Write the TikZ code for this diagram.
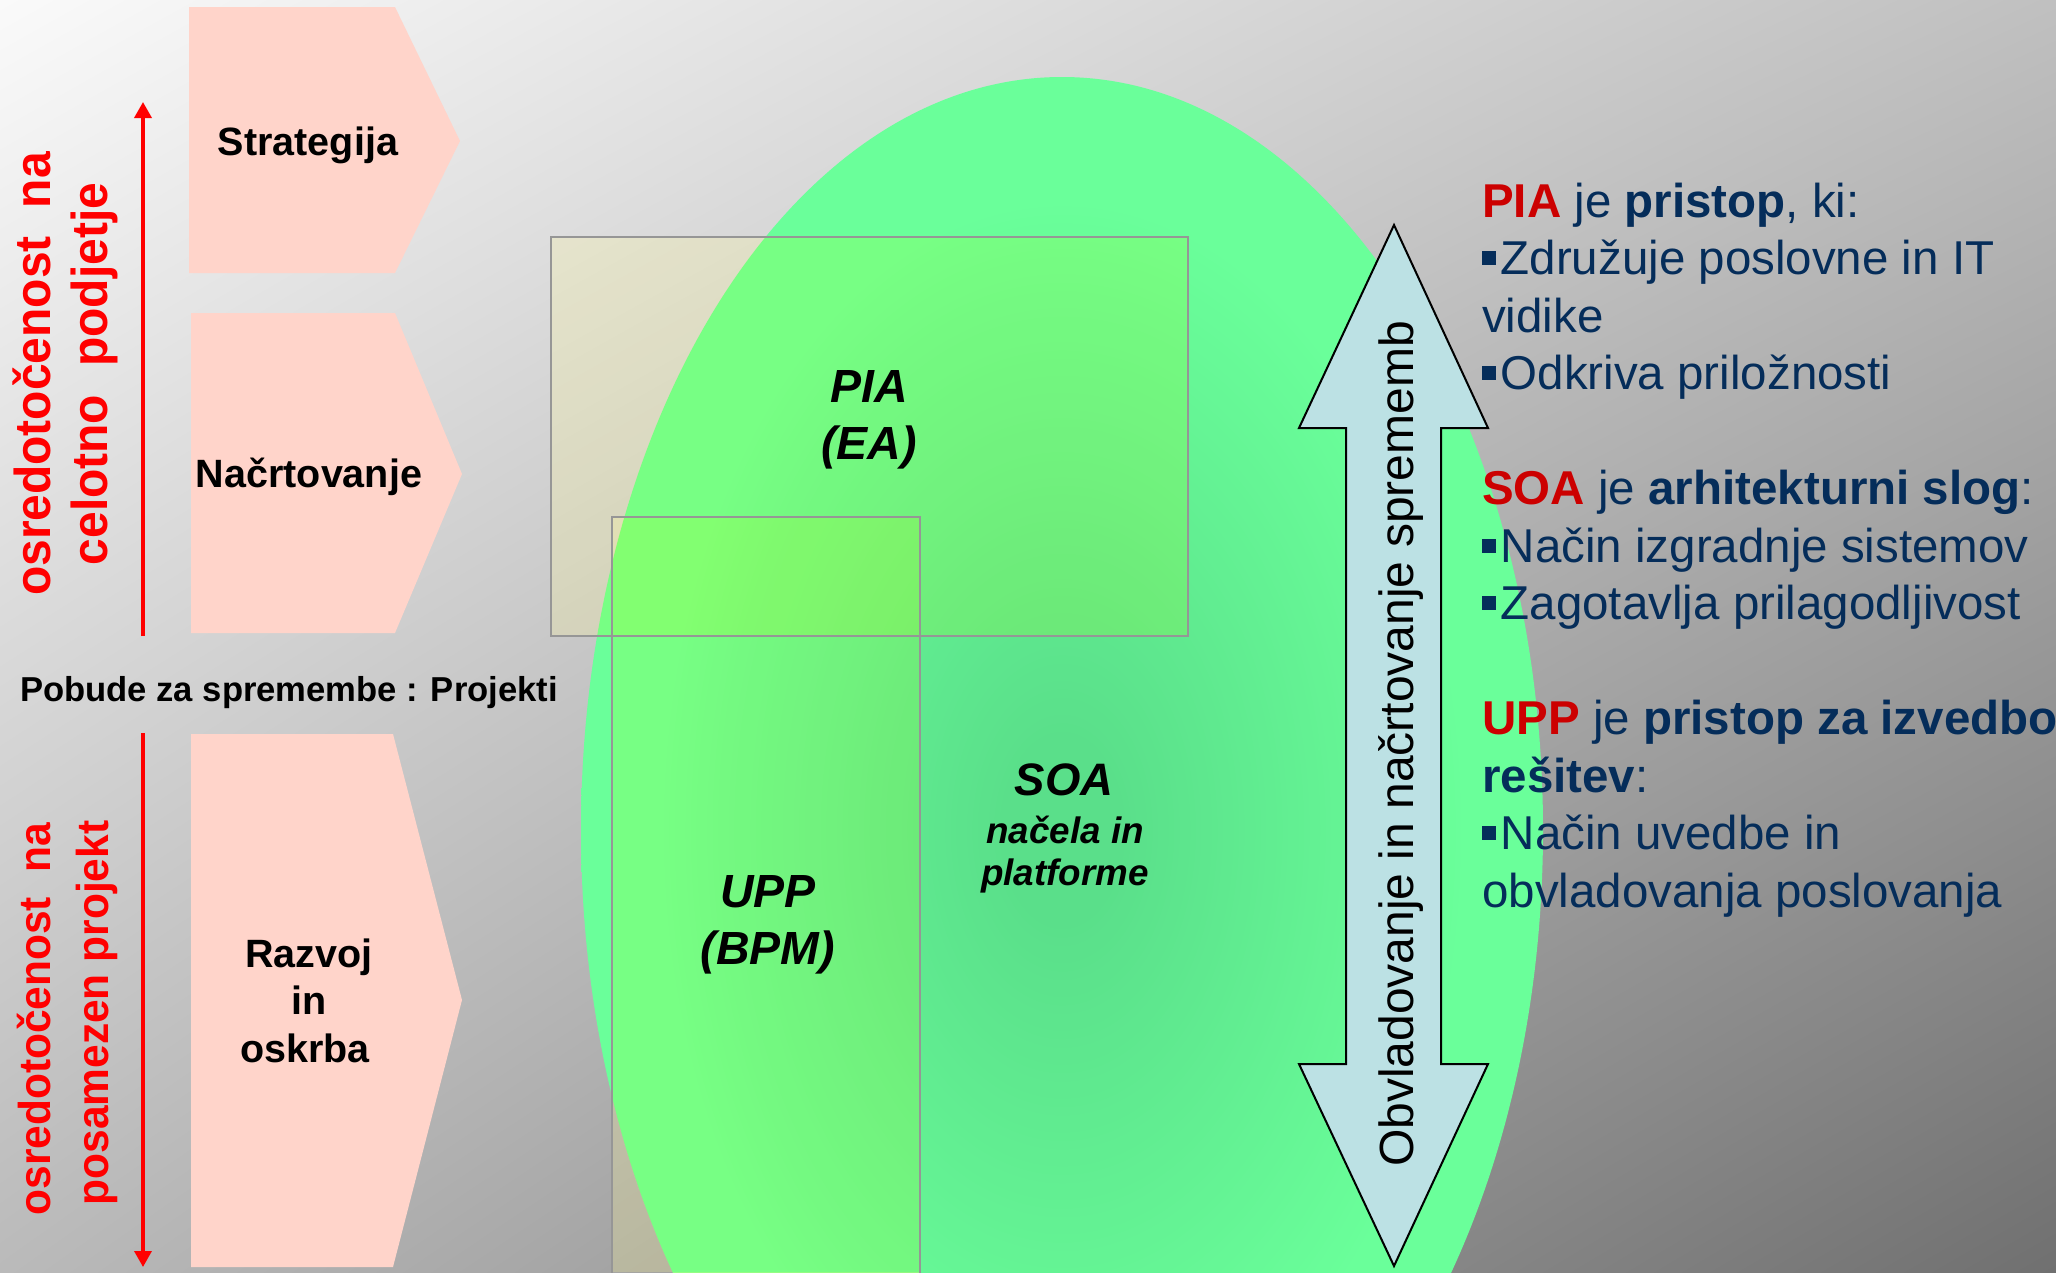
\documentclass[tikz,border=0pt]{standalone}
\usepackage{fontspec}
\setmainfont{Liberation Sans}
\newfontfamily\sidefont{Liberation Sans}[FakeStretch=0.95]
\usetikzlibrary{arrows.meta,shadings}

\definecolor{bgTL}{RGB}{250,250,250}
\definecolor{bgTR}{RGB}{192,192,192}
\definecolor{bgBL}{RGB}{186,186,186}
\definecolor{bgBR}{RGB}{112,112,112}
\definecolor{chevfill}{RGB}{255,212,202}
\definecolor{focusred}{RGB}{255,0,0}
\definecolor{ellout}{RGB}{106,255,154}
\definecolor{ellin}{RGB}{90,223,138}
\definecolor{tintout}{RGB}{255,250,150}
\definecolor{tintin}{RGB}{200,255,0}
\definecolor{boxline}{RGB}{150,150,150}
\definecolor{flowfill}{RGB}{188,225,228}
\definecolor{navy}{RGB}{5,45,90}
\definecolor{keyred}{RGB}{204,0,0}

% green oval: darker core fading to light green towards the rim (rim = 25bp)
\pgfdeclareradialshading{ellshade}{\pgfpoint{0bp}{0bp}}{%
  color(0bp)=(ellin); color(3bp)=(ellin); color(21bp)=(ellout); color(50bp)=(ellout)}

\newcommand\blt{\raisebox{0.19em}{\rule{0.3em}{0.3em}}\hspace{0.09em}}
\newcommand\kw[1]{\textcolor{keyred}{\bfseries #1}}

\begin{document}
\begin{tikzpicture}[x=1pt,y=-1pt,
  chev/.style={fill=chevfill},
  stagelbl/.style={font=\bfseries\fontsize{39.5}{47}\selectfont, inner sep=0pt, anchor=base},
  sidelbl/.style={rotate=90, anchor=base, text=focusred, inner sep=0pt},
  redarrow/.style={draw=focusred, line width=3.5pt, -{Triangle[width=17pt,length=16pt]}},
  arealine/.style={draw=boxline, line width=2pt},
  arealbl/.style={font=\bfseries\itshape\fontsize{46.5}{56}\selectfont, inner sep=0pt, anchor=base},
  soasub/.style={font=\bfseries\itshape\fontsize{36.8}{44}\selectfont, inner sep=0pt, anchor=base},
  notes/.style={font=\fontsize{47.5}{57}\selectfont, text=navy, inner sep=0pt, anchor=base west},
]
\useasboundingbox (0,0) rectangle (2056,1272);
\clip (0,0) rectangle (2056,1272);

% backdrop
\shade[upper left=bgTL, upper right=bgTR, lower left=bgBL, lower right=bgBR]
  (0,0) rectangle (2056,1272);

% stage chevrons
\fill[chev] (189,7) -- (395,7) -- (460,141) -- (395,273) -- (189,273) -- cycle;
\fill[chev] (191,313) -- (395,313) -- (462,474) -- (395,633) -- (191,633) -- cycle;
\fill[chev] (191,734) -- (393,734) -- (462,1000) -- (393,1267) -- (191,1267) -- cycle;

\node[stagelbl] (strat) at (308,155) {Strategija};
\node[stagelbl] (plan) at (309,487) {Načrtovanje};
\node[stagelbl] (dev1) at (309,967) {Razvoj};
\node[stagelbl] (dev2) at (309,1014) {in};
\node[stagelbl] (dev3) at (305,1062) {oskrba};

\node[font=\bfseries\fontsize{34.6}{41}\selectfont, inner sep=0pt, anchor=base west]
  (drivers) at (20,701) {Pobude za spremembe : Projekti};

% focus arrows
\coordinate (upfoot) at (143,636);
\coordinate (uptip) at (143,102);
\coordinate (downtop) at (143,733);
\coordinate (downtip) at (143,1267);
\draw[redarrow] (upfoot) -- (uptip);
\draw[redarrow] (downtop) -- (downtip);

\node[sidelbl, font=\sidefont\bfseries\fontsize{50.5}{60}\selectfont] (ent1) at (50,374)
  {osredotočenost\hspace{0.556em}na};
\node[sidelbl, font=\sidefont\bfseries\fontsize{50.5}{60}\selectfont] (ent2) at (107,374)
  {celotno\hspace{0.556em}podjetje};
\node[sidelbl, font=\sidefont\bfseries\fontsize{44.7}{54}\selectfont] (prj1) at (50,1019)
  {osredotočenost\hspace{0.556em}na};
\node[sidelbl, font=\sidefont\bfseries\fontsize{44.7}{54}\selectfont] (prj2) at (108,1013)
  {posamezen projekt};

% SOA oval
\shade[shading=ellshade] (1062,830) ellipse [x radius=481, y radius=753];

% PIA and UPP areas: pale tint off the oval, yellow-green tint on it
\begin{scope}[even odd rule]
  \clip (0,0) rectangle (2056,1272)
    (1062,830) ellipse [x radius=481, y radius=753];
  \fill[tintout, fill opacity=0.24] (551,237) rectangle (1188,636);
  \fill[tintout, fill opacity=0.24] (612,517) rectangle (920,1290);
\end{scope}
\begin{scope}
  \clip (1062,830) ellipse [x radius=481, y radius=753];
  \fill[tintin, fill opacity=0.14] (551,237) rectangle (1188,636);
  \fill[tintin, fill opacity=0.14] (612,517) rectangle (920,1290);
\end{scope}
\draw[arealine] (551,237) rectangle (1188,636);
\draw[arealine] (612,517) rectangle (920,1290);

\node[arealbl] (pia) at (869,402) {PIA};
\node[arealbl] (ea) at (869,459) {(EA)};
\node[arealbl] (upp) at (768,907) {UPP};
\node[arealbl] (bpm) at (768,964) {(BPM)};
\node[arealbl, font=\bfseries\itshape\fontsize{45.5}{54}\selectfont] (soa) at (1064,795) {SOA};
\node[soasub] (soa2) at (1065,843) {načela in};
\node[soasub] (soa3) at (1065,885) {platforme};

% two-way change arrow
\draw[fill=flowfill, line width=2pt, line join=miter]
  (1394,225) -- (1488,428) -- (1441,428) -- (1441,1064) -- (1488,1064) -- (1394,1266)
  -- (1299,1064) -- (1346,1064) -- (1346,428) -- (1299,428) -- cycle;
\node[rotate=90, anchor=base, inner sep=0pt, font=\fontsize{48}{58}\selectfont]
  (flow) at (1413,744) {Obvladovanje in načrtovanje sprememb};

% notes on the right
\node[notes] (n1) at (1482,217) {\kw{PIA} je \textbf{pristop}, ki:};
\node[notes] (n2) at (1482,274.5) {\blt Združuje poslovne in IT};
\node[notes] (n3) at (1482,332) {vidike};
\node[notes] (n4) at (1482,389.5) {\blt Odkriva priložnosti};
\node[notes] (n5) at (1482,504.5) {\kw{SOA} je \textbf{arhitekturni slog}:};
\node[notes] (n6) at (1482,562) {\blt Način izgradnje sistemov};
\node[notes] (n7) at (1482,619.5) {\blt Zagotavlja prilagodljivost};
\node[notes] (n8) at (1482,734.5) {\kw{UPP} je \textbf{pristop za izvedbo}};
\node[notes] (n9) at (1482,792) {\textbf{rešitev}:};
\node[notes] (n10) at (1482,849.5) {\blt Način uvedbe in};
\node[notes] (n11) at (1482,907) {obvladovanja poslovanja};
\end{tikzpicture}
\end{document}
